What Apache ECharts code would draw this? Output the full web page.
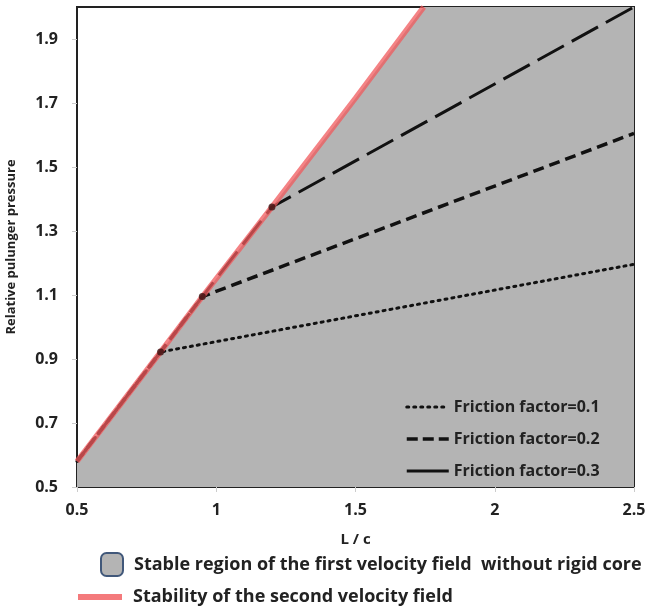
<!DOCTYPE html>
<html><head><meta charset="utf-8">
<script src="https://cdn.jsdelivr.net/npm/echarts@6/dist/echarts.min.js"></script>
<style>html,body{margin:0;padding:0;background:#fff}#c{width:652px;height:610px}</style>
</head><body><div id="c"></div>
<script>
// Data
var boundary = [[0.5, 0.58], [0.8, 0.922], [0.95, 1.095], [1.2, 1.375], [1.5, 1.715], [1.745, 2.0]];
var stableRegion = [[0.5, 0.58], [0.8, 0.922], [0.95, 1.095], [1.2, 1.375], [1.5, 1.715], [1.745, 2.0], [2.5, 2.0]];
var friction01 = [[0.5, 0.58], [0.8, 0.922], [2.5, 1.196]];
var friction02 = [[0.5, 0.58], [0.8, 0.922], [0.95, 1.095], [2.5, 1.605]];
var friction03 = [[0.5, 0.58], [0.8, 0.922], [0.95, 1.095], [1.2, 1.375], [2.5, 2.0]];
var junctions = [[0.8, 0.922], [0.95, 1.095], [1.2, 1.375]];
var yTickLabels = [0.5, 0.7, 0.9, 1.1, 1.3, 1.5, 1.7, 1.9];
var xTickLabels = [0.5, 1, 1.5, 2, 2.5];

var FONT = 'Open Sans';
var hiddenSym = { opacity: 0 };
var chart = echarts.init(document.getElementById('c'));
chart.setOption({
  animation: false,
  textStyle: { fontFamily: FONT },
  grid: { left: 77, right: 18, top: 7, bottom: 123, outerBoundsMode: 'none', containLabel: false,
    show: true, borderColor: '#222', borderWidth: 2, backgroundColor: 'transparent' },
  xAxis: {
    type: 'value', min: 0.5, max: 2.5, interval: 0.5,
    name: 'L / c', nameLocation: 'middle', nameGap: 45,
    nameTextStyle: { fontFamily: FONT, fontWeight: 'bold', fontSize: 15, color: '#222' },
    axisLine: { show: true, lineStyle: { color: '#222', width: 2 } },
    axisTick: { show: true, length: 5, lineStyle: { color: '#ccc' }, customValues: xTickLabels },
    axisLabel: { fontFamily: FONT, fontWeight: 'bold', fontSize: 16, color: '#222', margin: 15, customValues: xTickLabels },
    splitLine: { show: false }
  },
  yAxis: {
    type: 'value', min: 0.5, max: 2.0, interval: 0.1,
    name: 'Relative pulunger pressure', nameLocation: 'middle', nameGap: 59, nameRotate: 90,
    nameTextStyle: { fontFamily: FONT, fontWeight: 'bold', fontSize: 13, color: '#222' },
    axisLine: { show: true, lineStyle: { color: '#222', width: 2 } },
    axisTick: { show: true, length: 5, lineStyle: { color: '#ccc' }, customValues: yTickLabels },
    axisLabel: { fontFamily: FONT, fontWeight: 'bold', fontSize: 16, color: '#222', margin: 19, customValues: yTickLabels,
      formatter: function (v) { return v.toFixed(1); } },
    splitLine: { show: false }
  },
  legend: [
    {
      orient: 'vertical', left: 405, top: 399, padding: 0, itemWidth: 42, itemHeight: 14, itemGap: 16,
      textStyle: { fontFamily: FONT, fontWeight: 'bold', fontSize: 16, color: '#222' },
      data: [
        { name: 'Friction factor=0.1', itemStyle: hiddenSym, lineStyle: { width: 3, type: [2, 5], cap: 'round' } },
        { name: 'Friction factor=0.2', itemStyle: hiddenSym, lineStyle: { width: 3.5, type: [11, 5] } },
        { name: 'Friction factor=0.3', itemStyle: hiddenSym, lineStyle: { width: 3, type: 'solid' } }]
    },
    {
      left: 100, top: 552, padding: 0, itemWidth: 22, itemHeight: 23,
      textStyle: { fontFamily: FONT, fontWeight: 'bold', fontSize: 18, color: '#222', padding: [0, 0, 0, 6] },
      data: [{ name: 'Stable region of the first velocity field  without rigid core', icon: 'roundRect',
        itemStyle: { color: '#b4b4b4', borderColor: '#41587a', borderWidth: 2 } }]
    },
    {
      left: 78, top: 588, padding: 0, itemWidth: 44, itemHeight: 6,
      textStyle: { fontFamily: FONT, fontWeight: 'bold', fontSize: 18, color: '#222', padding: [0, 0, 0, 6] },
      data: [{ name: 'Stability of the second velocity field', icon: 'rect', itemStyle: { color: '#f47a7c' } }]
    }
  ],
  series: [
    {
      name: 'Stable region of the first velocity field  without rigid core', type: 'line', data: stableRegion,
      symbol: 'none', lineStyle: { width: 0 }, itemStyle: { color: '#b4b4b4' },
      areaStyle: { color: '#b4b4b4', opacity: 1, origin: 'start' }, z: 1
    },
    {
      name: 'Friction factor=0.1', type: 'line', data: friction01, symbol: 'none', showSymbol: false,
      itemStyle: { color: '#111' }, lineStyle: { color: '#111', width: 3, type: [2, 5], cap: 'round' }, z: 2
    },
    {
      name: 'Friction factor=0.2', type: 'line', data: friction02, symbol: 'none', showSymbol: false,
      itemStyle: { color: '#111' }, lineStyle: { color: '#111', width: 3.5, type: [11, 6] }, z: 2
    },
    {
      name: 'Friction factor=0.3', type: 'line', data: friction03, symbol: 'none', showSymbol: false,
      itemStyle: { color: '#111' }, lineStyle: { color: '#111', width: 3, type: [30, 9] }, z: 2
    },
    {
      name: 'junctions', type: 'scatter', data: junctions, symbol: 'circle', symbolSize: 7,
      itemStyle: { color: '#3a1010' }, z: 4
    },
    {
      name: 'Stability of the second velocity field', type: 'line', data: boundary, symbol: 'none',
      itemStyle: { color: '#f47a7c' }, lineStyle: { color: 'rgba(240,90,92,0.75)', width: 5.5 }, z: 3
    }
  ]
});
</script></body></html>
